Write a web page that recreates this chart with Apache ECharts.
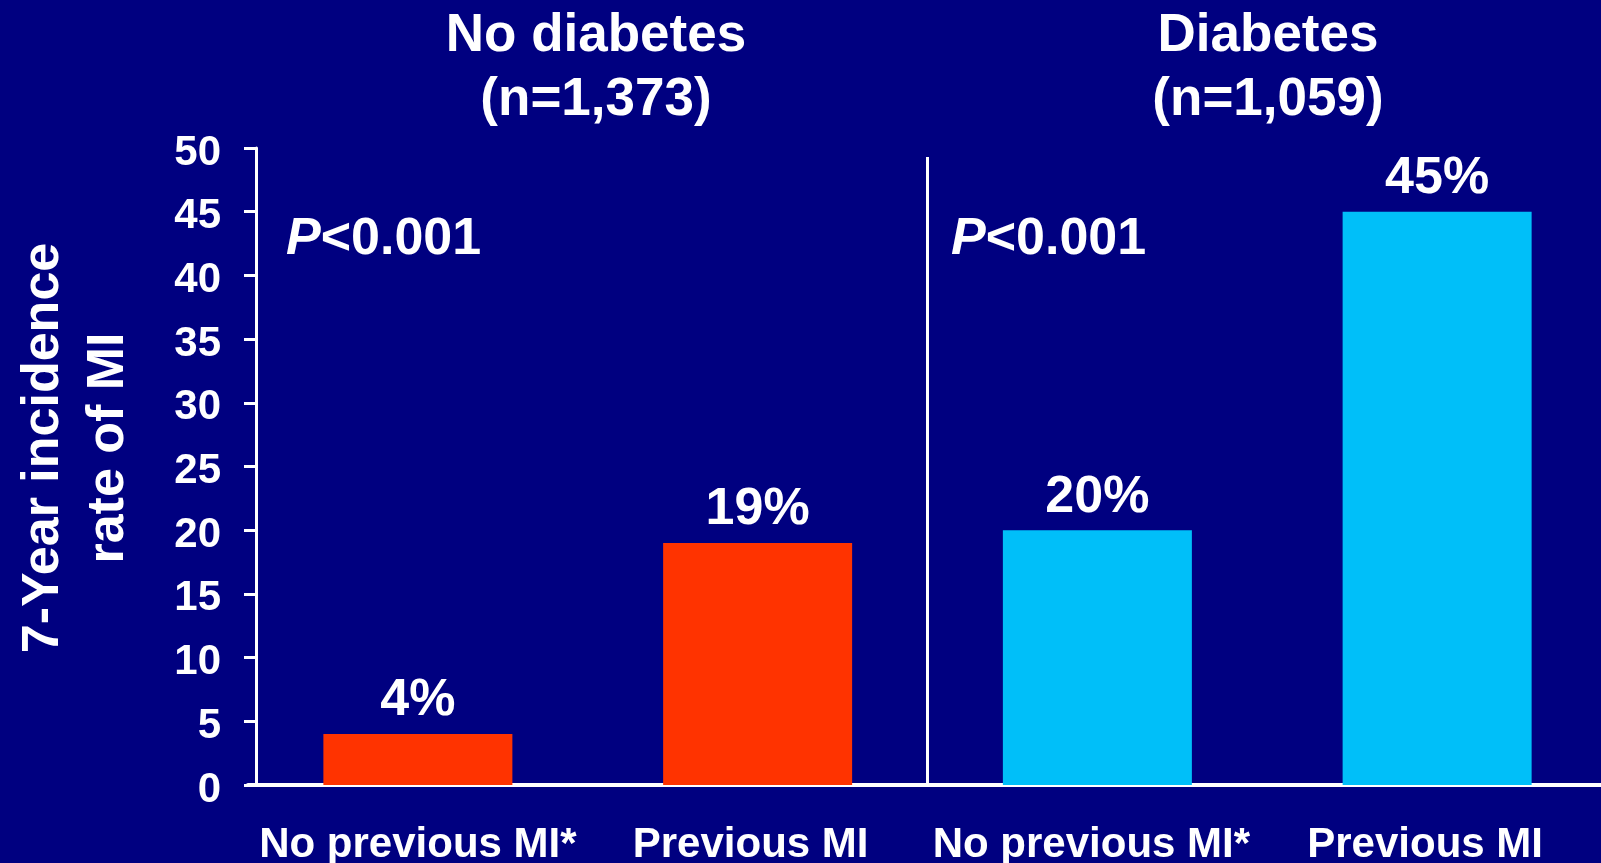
<!DOCTYPE html>
<html>
<head>
<meta charset="utf-8">
<script src="https://cdn.jsdelivr.net/npm/echarts@6/dist/echarts.min.js"></script>
<style>
  html, body { margin: 0; padding: 0; background: #000080; }
  #chart { width: 1601px; height: 863px; }
</style>
</head>
<body>
<div id="chart"></div>
<script>
// Bar categories (left pair: no diabetes, right pair: diabetes)
const categories = ['No previous MI*', 'Previous MI', 'No previous MI*', 'Previous MI'];
// 7-year incidence rate of MI, %
const incidence = [4, 19, 20, 45];
const barColors = ['#FF3300', '#FF3300', '#00BFF9', '#00BFF9'];
const groupTitles = ['No diabetes\n(n=1,373)', 'Diabetes\n(n=1,059)'];
const pValueText = ['<0.001', '<0.001'];
const yMin = 0, yMax = 50, yStep = 5;
const yAxisTitle = '7-Year incidence\nrate of MI';

const FONT = '"Liberation Sans", Arial, sans-serif';
// small leftward nudges of the category captions
const labelNudge = [0, 7, 6, 12];

const chart = echarts.init(document.getElementById('chart'), null, { renderer: 'canvas' });

const option = {
  backgroundColor: '#000080',
  animation: false,
  grid: { left: 248, top: 148, width: 1359, bottom: 78, outerBoundsMode: 'none', containLabel: false },
  xAxis: {
    type: 'category',
    data: categories.map((c, i) => ({ value: c, textStyle: { padding: [0, labelNudge[i] * 2, 0, 0] } })),
    axisLine: { show: true, lineStyle: { color: '#ffffff', width: 4 } },
    axisTick: { show: false },
    axisLabel: {
      color: '#ffffff', fontSize: 42, fontWeight: 'bold', fontFamily: FONT,
      margin: 39, interval: 0, hideOverlap: false
    },
    splitLine: { show: false }
  },
  yAxis: {
    type: 'value',
    min: yMin, max: yMax, interval: yStep,
    offset: -8,
    axisLine: { show: true, lineStyle: { color: '#ffffff', width: 3 } },
    axisTick: { show: true, length: 12, lineStyle: { color: '#ffffff', width: 3 } },
    axisLabel: {
      margin: 35,
      formatter: v => '{t|' + v + '}',
      rich: {
        t: { color: '#ffffff', fontSize: 42, fontWeight: 'bold', fontFamily: FONT, padding: [10, 0, 0, 0] }
      }
    },
    splitLine: { show: false }
  },
  series: [{
    type: 'bar',
    barWidth: 189,
    data: incidence.map((v, i) => ({ value: v, itemStyle: { color: barColors[i] } })),
    label: {
      show: true, position: 'top', distance: 7,
      formatter: '{c}%',
      color: '#ffffff', fontSize: 52, fontWeight: 'bold', fontFamily: FONT
    }
  }]
};
chart.setOption(option);

// Divider between the two groups, plus titles and annotations
const xMid = (chart.convertToPixel({ xAxisIndex: 0 }, 1) + chart.convertToPixel({ xAxisIndex: 0 }, 2)) / 2;
const yZero = chart.convertToPixel({ yAxisIndex: 0 }, 0);

const titleStyle = {
  fill: '#ffffff', font: 'bold 53px ' + FONT,
  align: 'center', verticalAlign: 'middle', lineHeight: 64
};
const pStyle = (txt) => ({
  text: '{i|P}{n|' + txt + '}',
  fill: '#ffffff',
  rich: {
    i: { fontSize: 52, fontWeight: 'bold', fontStyle: 'italic', fontFamily: FONT, color: '#ffffff' },
    n: { fontSize: 52, fontWeight: 'bold', fontFamily: FONT, color: '#ffffff' }
  },
  align: 'left', verticalAlign: 'middle'
});

chart.setOption({
  graphic: [
    {
      type: 'line', silent: true,
      shape: { x1: Math.round(xMid) - 0.5, y1: 157, x2: Math.round(xMid) - 0.5, y2: yZero },
      style: { stroke: '#ffffff', lineWidth: 3 }
    },
    { type: 'text', x: 596, y: 68, style: Object.assign({ text: groupTitles[0] }, titleStyle) },
    { type: 'text', x: 1268, y: 68, style: Object.assign({ text: groupTitles[1] }, titleStyle) },
    { type: 'text', x: 286, y: 240, style: pStyle(pValueText[0]) },
    { type: 'text', x: 951, y: 240, style: pStyle(pValueText[1]) },
    {
      type: 'text', x: 76, y: 448, rotation: Math.PI / 2,
      style: {
        text: yAxisTitle, fill: '#ffffff', font: 'bold 52px ' + FONT,
        align: 'center', verticalAlign: 'middle', lineHeight: 65
      }
    }
  ]
});
</script>
</body>
</html>
